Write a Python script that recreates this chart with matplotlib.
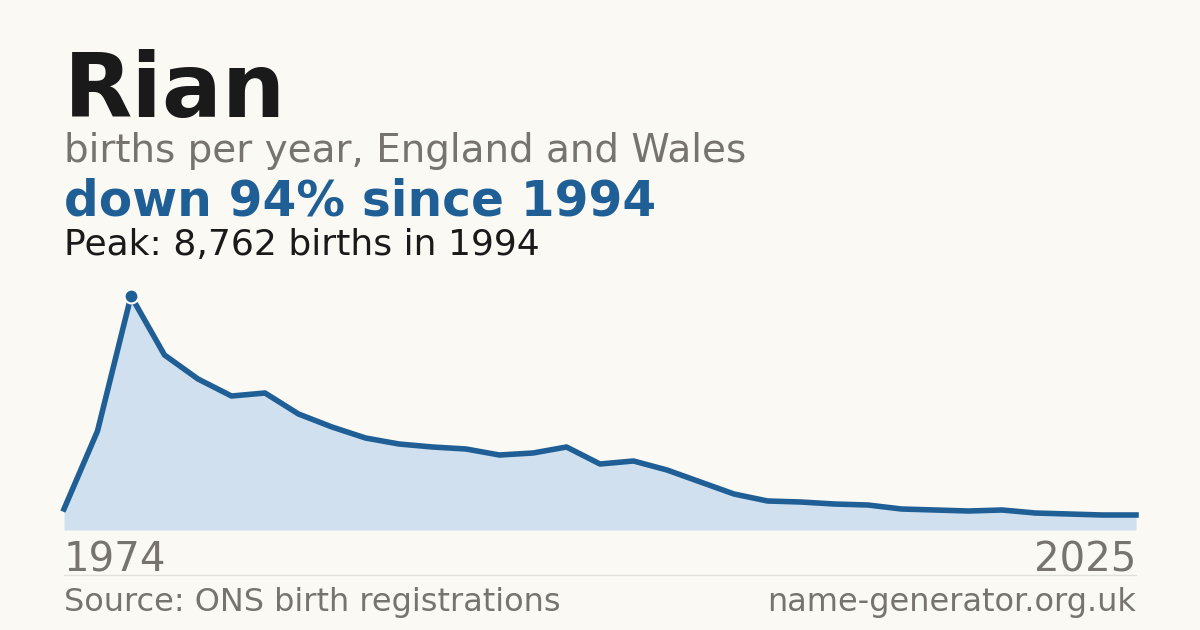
import matplotlib
matplotlib.use("Agg")
import matplotlib.pyplot as plt

years = list(range(1992, 2025))
births = [786, 3707, 8762, 6553, 5654, 5017, 5130, 4344, 3857, 3445, 3220, 3108, 3033,
          2808, 2883, 3108, 2471, 2584, 2247, 1797, 1348, 1086, 1048, 973, 936, 786,
          749, 711, 749, 636, 599, 562, 562]
start_label, end_label = "1974", "2025"

W, H = 1200, 630
bg = "#faf9f4"
blue = "#1f5f96"
fig = plt.figure(figsize=(12, 6.3), dpi=100, facecolor=bg)

def fy(px):
    return 1 - px / H

ax = fig.add_axes([64 / W, (H - 530) / H, 1072 / W, 234 / H])
ax.set_facecolor("none")
ax.fill_between(years, births, 0, color="#d0e0ef", lw=0)
ax.plot(years, births, color=blue, lw=4, solid_joinstyle="round", clip_on=False)
pk = births.index(max(births))
ax.plot(years[pk], births[pk], "o", ms=10, color=blue, mec="white", mew=1.5, clip_on=False, zorder=5)
ax.set_xlim(years[0], years[-1])
ax.set_ylim(0, max(births))
ax.axis("off")

fig.text(64 / W, fy(117), "Rian", fontsize=64, fontweight="bold", color="#1a1a1a", va="baseline")
fig.text(64 / W, fy(162), "births per year, England and Wales", fontsize=28, color="#77736e", va="baseline")
fig.text(64 / W, fy(216), "down 94% since 1994", fontsize=35, fontweight="bold", color=blue, va="baseline")
fig.text(64 / W, fy(255), "Peak: 8,762 births in 1994", fontsize=26, color="#1a1a1a", va="baseline")
fig.text(64 / W, fy(571), start_label, fontsize=29, color="#77736e", va="baseline")
fig.text(1136 / W, fy(571), end_label, fontsize=29, color="#77736e", va="baseline", ha="right")
fig.add_artist(plt.Line2D([64 / W, 1136 / W], [fy(575), fy(575)], color="#e2e0da", lw=1))
fig.text(64 / W, fy(611), "Source: ONS birth registrations", fontsize=23, color="#77736e", va="baseline")
fig.text(1136 / W, fy(611), "name-generator.org.uk", fontsize=23, color="#77736e", va="baseline", ha="right")

fig.savefig("out.png", dpi=100, facecolor=bg)
